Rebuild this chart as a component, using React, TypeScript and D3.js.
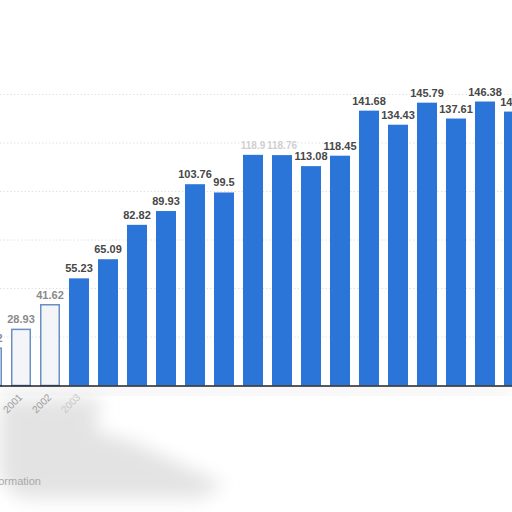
import React from "react";
import * as d3 from "d3";

const years = ["2000","2001","2002","2003","2004","2005","2006","2007","2008","2009","2010","2011","2012","2013","2014","2015","2016","2017","2018"];
const values = [19.2, 28.93, 41.62, 55.23, 65.09, 82.82, 89.93, 103.76, 99.5, 118.9, 118.76, 113.08, 118.45, 141.68, 134.43, 145.79, 137.61, 146.38, 141.2];
const fadedYears = ["2000","2001","2002"];
const obscuredYears = ["2009","2010"];
const visibleTickYears = ["2001","2002","2003"];
const gridValues = [25, 50, 75, 100, 125, 150];
const footerText = "Additional Information";

const W = 512, H = 512;
const BLUE = "#2b74d8";

export default function App() {
  const x = d3.scaleBand<string>().domain(years).range([-22.5, 528.5]).paddingInner(0.31).paddingOuter(0.155);
  const y = d3.scaleLinear().domain([0, 150]).range([385.5, 94.5]);
  const fmt = (v: number) => String(v);
  return (
    <svg width={W} height={H} style={{ position: "absolute", left: 0, top: 0, background: "#fff" }}>
      <defs>
        <filter id="blur" x="-20%" y="-20%" width="140%" height="140%">
          <feGaussianBlur stdDeviation="9" />
        </filter>
      </defs>
      <rect width={W} height={H} fill="#fff" />
      {/* soft grey shadow beneath the axis */}
      <path d="M0,400 L100,398 L95,430 L140,445 L225,485 L200,498 L20,498 L0,480 Z" fill="#e3e3e3" filter="url(#blur)" />
      <rect x={0} y={388} width={W} height={6} fill="#e6e6e6" filter="url(#blur)" />
      {gridValues.map(g => (
        <line key={g} x1={0} x2={W} y1={y(g)} y2={y(g)} stroke="#e2e2e2" strokeWidth={1} strokeDasharray="1.5,2" />
      ))}
      {years.map((yr, i) => {
        const faded = fadedYears.includes(yr);
        const bx = x(yr)!;
        const top = y(values[i]);
        return (
          <rect key={yr} x={faded ? bx + 0.75 : bx} y={top} width={faded ? x.bandwidth() - 1.5 : x.bandwidth()} height={y(0) - top}
            fill={faded ? "#f3f5f8" : BLUE} stroke={faded ? "#6a8fc4" : "none"} strokeWidth={faded ? 1.5 : 0} />
        );
      })}
      {years.map((yr, i) => {
        const faded = fadedYears.includes(yr);
        const obsc = obscuredYears.includes(yr);
        const cx = x(yr)! + x.bandwidth() / 2;
        return (
          <text key={"l" + yr} x={cx} y={y(values[i]) - 6} textAnchor="middle"
            fontFamily="Liberation Sans, Arial, sans-serif" fontSize={obsc ? 10 : 11} fontWeight="bold"
            fill={faded ? "#8a8a8a" : obsc ? "#cfcfcf" : "#474747"}
            stroke="#fff" strokeWidth={3} paintOrder="stroke" strokeLinejoin="round">
            {fmt(values[i])}
          </text>
        );
      })}
      <line x1={0} x2={W} y1={386} y2={386} stroke="#222" strokeWidth={1.5} />
      {visibleTickYears.map((yr, i) => {
        const cx = x(yr)! + x.bandwidth() / 2 + 2;
        return (
          <text key={"t" + yr} transform={`translate(${cx},${398}) rotate(-45)`} textAnchor="end"
            fontFamily="Liberation Sans, Arial, sans-serif" fontSize={10}
            fill={i === 2 ? "#c8c8c8" : "#9a9a9a"}>{yr}</text>
        );
      })}
      <text x={41} y={485} textAnchor="end" fontFamily="Liberation Sans, Arial, sans-serif" fontSize={11} fill="#a8a8a8">{footerText}</text>
    </svg>
  );
}
